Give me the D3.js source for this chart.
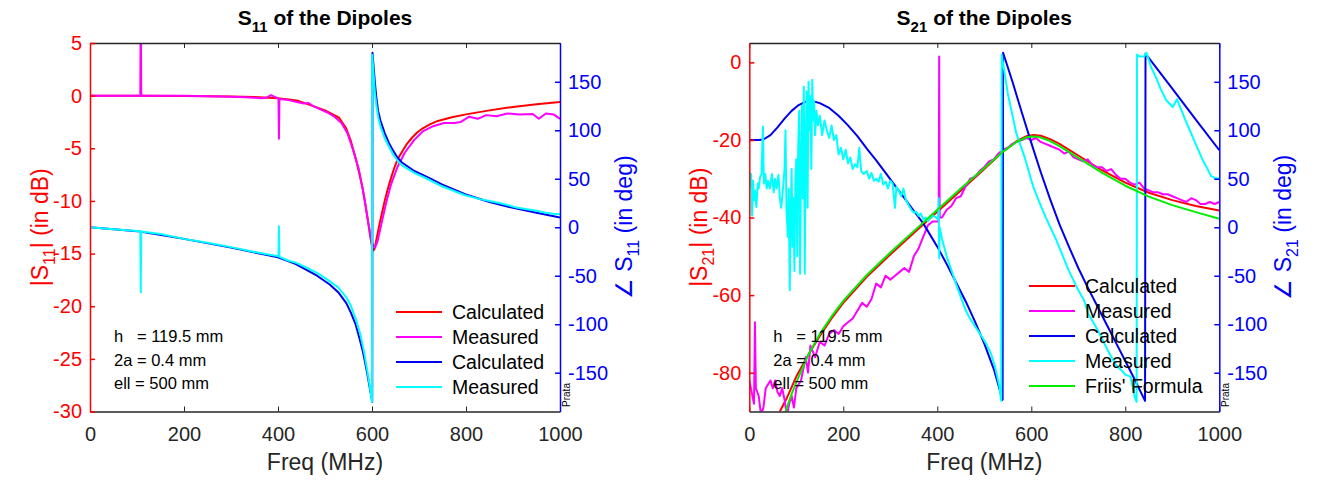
<!DOCTYPE html>
<html lang="en">
<head>
<meta charset="utf-8">
<title>S11 and S21 of the Dipoles</title>
<script src="https://cdn.jsdelivr.net/npm/d3@7"></script>
<style>
  body { margin: 0; background: #fff; }
  svg text { font-family: "Liberation Sans", Arial, Helvetica, sans-serif; }
</style>
</head>
<body>
<svg id="chart" width="1329" height="483"></svg>
<script>

/////////////////////
// Data: [freq MHz, value]
var freqTicks = [0, 200, 400, 600, 800, 1000];
var phaseTicks = [-150, -100, -50, 0, 50, 100, 150];
var s11DbTicks = [-30, -25, -20, -15, -10, -5, 0, 5];
var s21DbTicks = [-80, -60, -40, -20, 0];
var dipoleNotes = ["h   = 119.5 mm", "2a = 0.4 mm", "ell = 500 mm"];

var s11CalcDb = [[0,0],[100,-0.01],[200,-0.03],[300,-0.08],[350,-0.14],[400,-0.25],[440,-0.45],[475,-1.0],[500,-1.4],
  [530,-2.1],[545,-3.1],[555,-4.3],[565,-5.9],[573,-7.4],[580,-8.8],[586,-10.4],[591,-11.8],[595,-13],[599,-14.1],
  [602,-14.7],[605,-14.6],[608,-14.0],[612,-13.1],[616,-12.2],[621,-11.2],[626,-10.2],[631,-9.3],[636,-8.5],[642,-7.6],
  [648,-6.8],[655,-6.0],[663,-5.4],[674,-4.6],[685,-4.0],[696,-3.5],[708,-3.1],[724,-2.7],[740,-2.4],[770,-2.05],
  [800,-1.78],[850,-1.4],[900,-1.07],[950,-0.82],[1000,-0.6]];

var s11MeasDb = [[0,0],[50,0],[107,0],[108,10],[109,0],[150,0],[200,-0.02],[250,-0.05],[300,-0.1],[330,-0.15],[350,-0.2],
  [365,-0.25],[375,-0.2],[385,0.05],[392,-0.1],[400,-0.25],[401,-0.3],[402,-4.1],[403,-0.35],[410,-0.35],[425,-0.45],
  [440,-0.6],[455,-0.75],[465,-0.7],[475,-1.0],[490,-1.3],[505,-1.6],[520,-2.0],[535,-2.6],[548,-3.6],[560,-5.2],
  [572,-7.0],[583,-9.5],[592,-12],[598,-13.6],[603,-14.3],[607,-14.4],[612,-13.8],[620,-12.2],[630,-10.2],[640,-8.5],
  [654,-6.8],[670,-5.4],[690,-4.2],[708,-3.4],[730,-2.9],[753,-2.6],[775,-2.6],[789,-2.5],[807,-2.0],[825,-2.2],
  [843,-1.85],[865,-1.95],[888,-1.7],[915,-1.8],[942,-1.75],[955,-2.2],[970,-1.7],[987,-1.8],[1000,-2.2]];

var s11CalcPhase = [[0,0],[100,-4],[200,-12],[300,-21],[400,-31],[438,-38],[483,-50],[510,-59],[528,-67],[545,-78],
  [555,-88],[565,-100],[573,-114],[580,-127],[586,-141],[591,-154],[595,-165],[598,-173],[600.5,-180],[601,180],
  [603,168],[606,150],[609,135],[613,120],[618,110],[627,97],[636,87],[645,79],[654,72],[663,67],[690,58],[717,52],
  [750,44],[798,34],[850,26],[900,20],[950,15],[1000,10]];

var s11MeasPhase = [[0,0],[50,-2],[107,-4],[108,-67],[109,-4.5],[150,-7],[200,-12],[250,-16],[300,-20.5],[350,-25.5],
  [380,-28],[401,-30],[402,1],[403,-30.5],[420,-34],[440,-37],[460,-41.5],[483,-47],[505,-54],[528,-62],[545,-72],
  [555,-81],[565,-94],[575,-110],[583,-128],[590,-148],[595,-163],[599,-177],[600,-180],[600.5,178],[603,160],
  [606,140],[609,127],[613,114],[618,104],[627,92],[636,83],[645,75],[654,69],[663,64],[690,56],[717,50],[750,42],
  [798,33],[830,29],[850,27],[870,25],[888,23],[910,20],[930,18.5],[950,17],[970,15],[985,14],[1000,13.5]];

var s21CalcDb = [[50,-96],[65,-90],[80,-86.5],[100,-81],[125,-75.5],[150,-70.5],[175,-66],[200,-62],[250,-55.3],
  [300,-49.5],[350,-44],[400,-38.5],[450,-33],[500,-27.5],[540,-23],[570,-20.2],[590,-19],[605,-18.7],[620,-18.9],
  [640,-19.8],[660,-21],[700,-24],[750,-27.8],[800,-31],[850,-33.6],[900,-35.5],[950,-37],[1000,-38.2]];

var s21MeasDb = [[0,-82],[5,-85],[10,-88],[12,-67],[14,-84],[20,-86],[25,-91],[30,-89],[35,-84],[40,-83],[45,-82],
  [50,-84],[55,-82],[60,-85],[65,-86],[70,-84],[75,-87],[80,-91],[85,-88],[90,-86],[95,-89],[100,-84],[110,-82],
  [120,-76],[125,-80],[130,-73],[140,-76],[150,-72],[160,-73],[170,-70],[180,-69],[190,-70],[200,-68],[210,-67],
  [220,-66],[230,-64],[240,-62],[250,-63],[260,-61],[270,-57],[280,-58],[290,-55],[300,-56],[310,-55],[320,-54],
  [330,-53],[340,-54],[350,-50],[360,-48],[370,-45],[380,-42],[390,-41],[403,-41],[404,1.5],[405,-40],[410,-40],
  [420,-38],[430,-37],[440,-35],[450,-34.5],[460,-32],[470,-30],[480,-29.5],[490,-28],[500,-27],[510,-25.5],[520,-25],
  [530,-23.5],[540,-22.5],[550,-22],[560,-21],[570,-20.5],[580,-20],[590,-19.5],[600,-20],[610,-19.5],[620,-20.5],
  [630,-21],[640,-21.5],[650,-22],[660,-22.5],[670,-23.5],[680,-23],[690,-24.5],[700,-25],[710,-25.5],[720,-25],
  [730,-26.5],[740,-27],[750,-27],[760,-28],[770,-27.5],[780,-29],[790,-30],[800,-30],[810,-31],[820,-31.5],
  [830,-31],[840,-32.5],[850,-33],[860,-33.5],[870,-33.5],[880,-34],[890,-34],[900,-34.5],[910,-35],[920,-35.5],
  [930,-36],[940,-35],[950,-35.5],[960,-36.5],[970,-36.5],[980,-36],[990,-36.5],[1000,-36]];

var s21CalcPhase = [[0,90],[20,90],[30,90.5],[45,95],[60,103],[75,112],[90,120],[105,126],[120,129.5],[132,130.5],
  [150,128],[170,123],[190,115],[210,105],[230,94],[250,81],[270,69],[290,56],[310,43],[330,30],[350,17],[370,4],
  [380,-4],[400,-20],[420,-38],[440,-57],[460,-76],[480,-97],[500,-120],[520,-146],[539,-178],[540,180],[560,150],
  [580,118],[600,87],[620,57],[640,29],[660,3],[680,-20],[700,-42],[720,-62],[740,-81],[760,-100],[780,-119],
  [800,-138],[820,-157],[842,-179],[843,179],[900,143],[950,111],[1000,79.5]];

var s21MeasPhase = [[0,58],[2,41],[4,55],[6,12],[8,48],[10,28],[12,38],[15,21],[18,45],[20,40],[23,52],[26,55],
  [29,104],[31,45],[34,55],[37,40],[40,48],[44,40],[48,55],[52,36],[55,50],[58,40],[62,54],[65,30],[68,20],[72,42],
  [75,60],[77,100],[79,20],[82,-10],[84,40],[86,-65],[88,10],[90,60],[92,-20],[94,30],[96,-45],[98,50],[100,70],
  [102,-30],[104,80],[106,120],[108,-48],[110,60],[112,125],[114,30],[116,145],[118,-48],[120,90],[122,140],[124,20],
  [126,150],[128,100],[130,135],[132,60],[134,152],[136,110],[138,130],[140,95],[143,120],[146,105],[150,115],
  [155,95],[160,110],[165,100],[170,92],[175,105],[180,90],[185,95],[190,75],[195,82],[200,70],[205,80],[210,66],
  [215,72],[220,60],[225,65],[230,62],[234,82],[238,58],[243,55],[250,58],[255,50],[260,56],[265,48],[270,50],
  [275,47],[280,55],[285,44],[290,47],[295,40],[300,48],[305,45],[310,20],[313,42],[318,38],[323,32],[328,40],
  [333,28],[340,22],[345,18],[350,15],[355,16],[360,12],[365,14],[370,8],[375,10],[380,6],[385,10],[390,12],
  [398,10],[402,8],[403,30],[404,-32],[405,0],[410,-12],[420,-30],[441,-60],[459,-84],[468,-93],[480,-102],
  [495,-113],[505,-121],[514,-130],[523,-144],[532,-164],[536,-179],[537,178],[550,138],[568,97],[586,72],[604,42],
  [618,25],[631,10],[653,-13],[680,-45],[700,-65],[712,-75],[721,-89],[740,-105],[766,-130],[780,-142],[793,-148],
  [800,-152],[811,-154],[816,-165],[820,-175],[824,-180],[825,178],[830,176],[840,176],[845,180],[855,165],
  [865,155],[875,143],[887,131],[901,124],[910,132],[920,120],[930,108],[946,90],[955,80],[964,70],[975,60],
  [982,53],[990,51],[1000,50]];

var s21FriisDb = [[60,-96],[77,-90],[90,-85.5],[100,-82.5],[125,-75.5],[150,-70],[175,-65.5],[200,-61.5],[250,-54.8],
  [300,-49],[350,-43.5],[400,-38],[450,-32.5],[500,-27.2],[540,-23],[570,-20.4],[590,-19.3],[600,-19.1],[615,-19.2],
  [635,-20],[660,-21.6],[700,-24.6],[750,-28.4],[800,-31.8],[850,-34.6],[900,-36.8],[950,-38.6],[1000,-40.3]];

/////////////////////
// Layout
var svg = d3.select("#chart");
var plotTop = 43, plotBottom = 411.5;
var RED = "#ff0000", MAG = "#ff00ff", BLUE = "#0000f0", CYAN = "#00ffff", GREEN = "#00ee00", AXIS = "#262626";
var plain = function (d) { return String(d); };  // hyphen minus, like the original

var panels = [
  { id: "s11", left: 90, right: 560, sub: "11", dbDomain: [-30, 5], dbTicks: s11DbTicks,
    legendX: 396, legendY: 312,
    series: [
      { label: "Calculated", color: RED, side: "L", data: s11CalcDb },
      { label: "Measured", color: MAG, side: "L", data: s11MeasDb },
      { label: "Calculated", color: BLUE, side: "R", data: s11CalcPhase },
      { label: "Measured", color: CYAN, side: "R", data: s11MeasPhase }
    ] },
  { id: "s21", left: 749.3, right: 1219.3, sub: "21", dbDomain: [-90, 5], dbTicks: s21DbTicks,
    legendX: 1029, legendY: 286,
    series: [
      { label: "Calculated", color: RED, side: "L", data: s21CalcDb },
      { label: "Measured", color: MAG, side: "L", data: s21MeasDb },
      { label: "Calculated", color: BLUE, side: "R", data: s21CalcPhase },
      { label: "Measured", color: CYAN, side: "R", data: s21MeasPhase },
      { label: "Friis' Formula", color: GREEN, side: "L", data: s21FriisDb }
    ] }
];

panels.forEach(drawPanel);

function drawPanel(p) {
  var g = svg.append("g");
  var x = d3.scaleLinear().domain([0, 1000]).range([p.left, p.right]);
  var yL = d3.scaleLinear().domain(p.dbDomain).range([plotBottom, plotTop]);
  var yR = d3.scaleLinear().domain([-190, 190]).range([plotBottom, plotTop]);
  var cx = (p.left + p.right) / 2, cy = (plotTop + plotBottom) / 2;

  g.append("clipPath").attr("id", "clip-" + p.id)
    .append("rect").attr("x", p.left).attr("y", plotTop)
    .attr("width", p.right - p.left).attr("height", plotBottom - plotTop);

  // curves
  var plot = g.append("g").attr("clip-path", "url(#clip-" + p.id + ")");
  p.series.forEach(function (s) {
    var y = s.side === "L" ? yL : yR;
    plot.append("path").datum(s.data)
      .attr("fill", "none").attr("stroke", s.color).attr("stroke-width", 2)
      .attr("stroke-linejoin", "round")
      .attr("d", d3.line().x(function (d) { return x(d[0]); }).y(function (d) { return y(d[1]); }));
  });

  // axes, ticks inward
  var gb = g.append("g").attr("transform", "translate(0," + plotBottom + ")")
    .call(d3.axisBottom(x).tickValues(freqTicks).tickFormat(plain)
      .tickSizeInner(-5).tickSizeOuter(0).tickPadding(15));
  var gt = g.append("g").attr("transform", "translate(0," + plotTop + ")")
    .call(d3.axisTop(x).tickValues(freqTicks).tickSizeInner(-5).tickSizeOuter(0).tickFormat(""));
  [gb, gt].forEach(function (a) {
    a.select(".domain").attr("stroke", AXIS).attr("stroke-width", 1.5);
    a.selectAll(".tick line").attr("stroke", AXIS);
    a.selectAll("text").attr("fill", AXIS).attr("font-size", 20).attr("font-family", null);
  });

  var gl = g.append("g").attr("transform", "translate(" + p.left + ",0)")
    .call(d3.axisLeft(yL).tickValues(p.dbTicks).tickFormat(plain)
      .tickSizeInner(-5).tickSizeOuter(0).tickPadding(8));
  var gr = g.append("g").attr("transform", "translate(" + p.right + ",0)")
    .call(d3.axisRight(yR).tickValues(phaseTicks).tickFormat(plain)
      .tickSizeInner(-5).tickSizeOuter(0).tickPadding(8));
  [[gl, RED], [gr, "#0000ff"]].forEach(function (a) {
    a[0].select(".domain").attr("stroke", a[1]).attr("stroke-width", 1.5);
    a[0].selectAll(".tick line").attr("stroke", a[1]).attr("stroke-width", 1.5);
    a[0].selectAll("text").attr("fill", a[1]).attr("font-size", 20).attr("font-family", null);
  });

  // title
  var t = g.append("text").attr("x", cx).attr("y", 25).attr("text-anchor", "middle")
    .attr("font-size", 21).attr("font-weight", "bold").attr("fill", "#000");
  t.append("tspan").text("S");
  t.append("tspan").attr("font-size", 15).attr("dy", 7).text(p.sub);
  t.append("tspan").attr("dy", -7).text(" of the Dipoles");

  // x label
  g.append("text").attr("x", cx).attr("y", 470).attr("text-anchor", "middle")
    .attr("font-size", 23).attr("fill", AXIS).text("Freq (MHz)");

  // left y label
  var yl = g.append("text").attr("transform", "translate(" + (p.left - 42) + "," + cy + ") rotate(-90)")
    .attr("text-anchor", "middle").attr("font-size", 23).attr("fill", RED);
  yl.append("tspan").text("|S");
  yl.append("tspan").attr("font-size", 16).attr("dy", 7).text(p.sub);
  yl.append("tspan").attr("dy", -7).text("| (in dB)");

  // right y label
  var yr = g.append("text").attr("transform", "translate(" + (p.right + 72) + "," + cy + ") rotate(-90)")
    .attr("text-anchor", "middle").attr("font-size", 23).attr("fill", "#0000ff");
  yr.append("tspan").text("\u2220 S");
  yr.append("tspan").attr("font-size", 16).attr("dy", 7).text(p.sub);
  yr.append("tspan").attr("dy", -7).text(" (in deg)");

  // legend
  var lg = g.append("g");
  p.series.forEach(function (s, i) {
    var ly = p.legendY + i * 25;
    lg.append("line").attr("x1", p.legendX).attr("x2", p.legendX + 46)
      .attr("y1", ly).attr("y2", ly).attr("stroke", s.color).attr("stroke-width", 2.2);
    lg.append("text").attr("x", p.legendX + 56).attr("y", ly).attr("dy", "0.35em")
      .attr("font-size", 19.5).attr("fill", "#000").text(s.label);
  });

  // dipole parameters
  dipoleNotes.forEach(function (s, i) {
    g.append("text").attr("x", p.left + 24).attr("y", 342 + i * 23.5)
      .attr("font-size", 16.5).attr("fill", "#000").style("white-space", "pre").text(s);
  });

  // signature
  g.append("text").attr("transform", "translate(" + (p.right + 9.5) + ",395) rotate(-90)")
    .attr("text-anchor", "middle").attr("font-size", 10).attr("fill", "#000").text("Prata");
}

</script>
</body>
</html>
